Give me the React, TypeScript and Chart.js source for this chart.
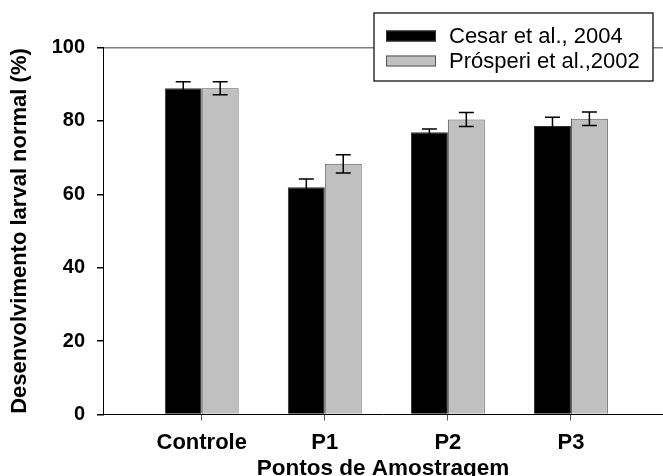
import React, { useEffect, useRef } from "react";
import { Chart, registerables } from "chart.js";

Chart.register(...registerables);

const categories = ["Controle", "P1", "P2", "P3"];
const cesarValues = [88.9, 61.9, 76.9, 78.6];
const cesarErrors = [1.8, 2.3, 0.9, 2.4];
const prosperiValues = [88.9, 68.3, 80.4, 80.6];
const prosperiErrors = [1.8, 2.5, 1.9, 1.85];
const seriesLabels = ["Cesar et al., 2004", "Prósperi et al.,2002"];
const yMin = 0;
const yMax = 100;
const yStep = 20;
const xTitle = "Pontos de Amostragem";
const yTitle = "Desenvolvimento larval normal (%)";

const FONT = "'Liberation Sans', Arial, Helvetica, sans-serif";

const errorBarsPlugin = {
  id: "errorBars",
  afterDatasetsDraw(chart: any) {
    const ctx = chart.ctx;
    const yScale = chart.scales.y;
    const errs = [cesarErrors, prosperiErrors];
    chart.data.datasets.forEach((ds: any, di: number) => {
      const meta = chart.getDatasetMeta(di);
      meta.data.forEach((bar: any, i: number) => {
        const v = ds.data[i].y;
        const e = errs[di][i];
        const x = bar.x;
        const yTop = yScale.getPixelForValue(v + e);
        const yBot = yScale.getPixelForValue(v - e);
        const cap = 7.5;
        ctx.save();
        ctx.strokeStyle = "#000";
        ctx.lineWidth = 1.5;
        ctx.beginPath();
        ctx.moveTo(x, yTop);
        ctx.lineTo(x, yBot);
        ctx.moveTo(x - cap, yTop);
        ctx.lineTo(x + cap, yTop);
        ctx.moveTo(x - cap, yBot);
        ctx.lineTo(x + cap, yBot);
        ctx.stroke();
        ctx.restore();
      });
    });
  },
};

const boxLegendPlugin = {
  id: "boxLegend",
  afterDraw(chart: any) {
    const ctx = chart.ctx;
    const area = chart.chartArea;
    const right = area.right - 10;
    const left = right - 279;
    const top = area.top - 34.5;
    const bottom = top + 68;
    ctx.save();
    ctx.fillStyle = "#fff";
    ctx.fillRect(left, top, right - left, bottom - top);
    ctx.strokeStyle = "#111";
    ctx.lineWidth = 1.3;
    ctx.strokeRect(left, top, right - left, bottom - top);
    chart.data.datasets.forEach((ds: any, i: number) => {
      const cy = top + 23 + i * 25;
      ctx.fillStyle = ds.backgroundColor;
      ctx.fillRect(left + 12, cy - 5.5, 50, 11);
      ctx.strokeStyle = ds.borderColor;
      ctx.lineWidth = 1;
      ctx.strokeRect(left + 12.5, cy - 5, 49, 10);
      ctx.fillStyle = "#000";
      ctx.font = `22px ${FONT}`;
      ctx.textAlign = "left";
      ctx.textBaseline = "middle";
      ctx.fillText(ds.label, left + 75, cy + 1);
    });
    ctx.restore();
  },
};

export default function App() {
  const canvasRef = useRef<HTMLCanvasElement | null>(null);

  useEffect(() => {
    document.body.style.margin = "0";
    document.body.style.overflow = "hidden";
    const canvas = canvasRef.current;
    if (!canvas) return;
    const chart = new Chart(canvas, {
      type: "bar",
      data: {
        datasets: [
          {
            label: seriesLabels[0],
            data: categories.map((_, i) => ({ x: i + 1, y: cesarValues[i] })),
            backgroundColor: "#000000",
            borderColor: "#333333",
            borderWidth: 1,
            categoryPercentage: 0.6,
            barPercentage: 1.0,
          },
          {
            label: seriesLabels[1],
            data: categories.map((_, i) => ({ x: i + 1, y: prosperiValues[i] })),
            backgroundColor: "#c0c0c0",
            borderColor: "#555555",
            borderWidth: 1,
            categoryPercentage: 0.6,
            barPercentage: 1.0,
          },
        ] as any,
      },
      options: {
        animation: false,
        responsive: false,
        maintainAspectRatio: false,
        layout: { padding: { top: 47.5, right: 0, bottom: 0, left: 0 } },
        plugins: {
          legend: { display: false },
          tooltip: { enabled: false },
        },
        scales: {
          x: {
            type: "linear",
            min: 0.198,
            max: 4.748,
            offset: false,
            afterFit: (s: any) => {
              s.height = 61.5;
            },
            afterBuildTicks: (s: any) => {
              s.ticks = categories.map((_, i) => ({ value: i + 1 }));
            },
            grid: {
              display: true,
              drawOnChartArea: false,
              drawTicks: true,
              tickLength: 6,
              color: "transparent",
              tickColor: "#555",
              offset: false,
            },
            border: { display: true, color: "#000", width: 1 },
            ticks: {
              autoSkip: false,
              maxRotation: 0,
              padding: 9,
              color: "#000",
              font: { family: FONT, size: 22, weight: "bold" },
              callback: (v: any) => categories[Number(v) - 1] ?? "",
            },
            title: {
              display: true,
              text: xTitle,
              color: "#000",
              font: { family: FONT, size: 22.5, weight: "bold" },
              padding: { top: 0, bottom: -6 },
            },
          },
          y: {
            type: "linear",
            min: yMin,
            max: yMax,
            afterFit: (s: any) => {
              s.width = 103;
            },
            grid: {
              display: true,
              drawOnChartArea: true,
              drawTicks: true,
              tickLength: 6,
              color: (c: any) => (c.tick && c.tick.value === yMax ? "#808080" : "transparent"),
              tickColor: "#000",
              lineWidth: 1.5,
            },
            border: { display: true, color: "#000", width: 1 },
            ticks: {
              stepSize: yStep,
              padding: 12,
              color: "#000",
              font: { family: FONT, size: 20, weight: "bold" },
            },
            title: {
              display: true,
              text: yTitle,
              color: "#000",
              font: { family: FONT, size: 22, weight: "bold" },
              padding: { top: 7, bottom: 0 },
            },
          },
        },
      } as any,
      plugins: [errorBarsPlugin, boxLegendPlugin],
    });
    return () => chart.destroy();
  }, []);

  return (
    <div style={{ width: 663, height: 476 }}>
      <canvas ref={canvasRef} width={663} height={476} style={{ display: "block" }} />
    </div>
  );
}
